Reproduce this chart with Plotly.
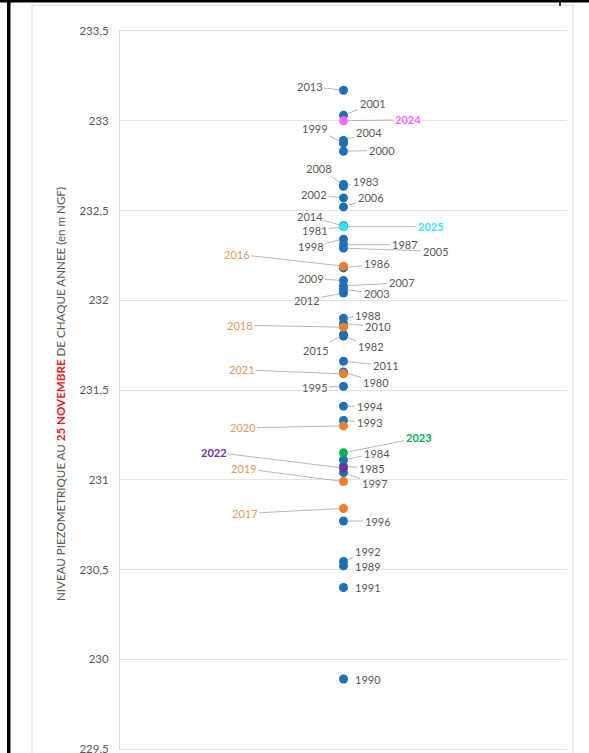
import plotly.graph_objects as go

# ---- data ----
years = list(range(1980, 2026))
levels = [231.60, 232.41, 231.80, 232.635, 231.11, 231.075, 232.18, 232.31, 231.90, 230.52,
          229.89, 230.40, 230.545, 231.33, 231.41, 231.52, 230.77, 231.04, 232.34, 232.875,
          232.83, 233.03, 232.57, 232.06, 232.89, 232.29, 232.52, 232.08, 232.645, 232.11,
          231.87, 231.66, 232.04, 233.17, 232.415, 231.81, 232.19, 230.84, 231.85, 230.99,
          231.30, 231.59, 231.065, 231.15, 233.00, 232.41]
orange_years = [2016, 2017, 2018, 2019, 2020, 2021]
special_years = [2022, 2023, 2024, 2025]
y_ticks = [229.5, 230, 230.5, 231, 231.5, 232, 232.5, 233, 233.5]

# ---- styles / label placement (pixel offsets of label relative to point) ----
BLUE = "#1F6FB4"
ORANGE = "#ED7D31"
special_style = {2022: "#7030A0", 2023: "#00B050", 2024: "#FF66FF", 2025: "#33E3F2"}
ORANGE_TXT = "#E09A5C"
GRAY_TXT = "#595959"
label_off = {
    2013: (-34, -4), 2001: (29, -12), 2024: (64, -1), 1999: (-29, -15), 2004: (25, -8),
    2000: (38, -1), 2008: (-25, -16), 1983: (22, -5), 2002: (-30, -3), 2006: (27, -9),
    2014: (-34, -9), 1981: (-29, 4), 2025: (87, 0), 1998: (-33, 7), 1987: (61, 0),
    2005: (92, 3), 2016: (-107, -12), 1986: (33, -4), 2009: (-33, -2), 2007: (58, -3),
    2012: (-37, 7), 2003: (33, 4), 1988: (24, -3), 2018: (-104, -2), 2010: (34, 3),
    2015: (-28, 16), 1982: (27, 10), 2011: (42, 4), 2021: (-102, -4), 1980: (32, 10),
    1995: (-29, 1), 1994: (26, 0), 1993: (26, 2), 2020: (-101, 2), 2023: (75, -15),
    1984: (33, -7), 2022: (-130, -16), 1985: (28, 2), 2019: (-100, -13), 1997: (31, 11),
    2017: (-99, 5), 1996: (34, 0), 1992: (24, -10), 1989: (24, 1), 1991: (24, 0),
    1990: (24, 0),
}
no_leader = {1989, 1991, 1990}

W, H = 589, 753
L, R, T, B = 120, 22, 31, 4
PW, PH = W - L - R, H - T - B


def px(x):
    return (x - L) / PW


def py(y):
    return (H - B - y) / PH


fig = go.Figure()

groups = [
    ([y for y in years if y not in orange_years and y not in special_years], BLUE),
    (orange_years, ORANGE),
]
for ys, col in groups:
    fig.add_trace(go.Scatter(
        x=[1] * len(ys), y=[levels[years.index(y)] for y in ys],
        mode="markers", marker=dict(color=col, size=9, line=dict(width=0)),
        hoverinfo="skip", showlegend=False, cliponaxis=False))
for y in special_years:
    fig.add_trace(go.Scatter(
        x=[1], y=[levels[years.index(y)]], mode="markers",
        marker=dict(color=special_style[y], size=9, line=dict(width=0)),
        hoverinfo="skip", showlegend=False))

for yr in years:
    val = levels[years.index(yr)]
    ax, ay = label_off[yr]
    if yr in special_years:
        txt = f"<b>{yr}</b>"
        col = special_style[yr]
    elif yr in orange_years:
        txt = str(yr)
        col = ORANGE_TXT
    else:
        txt = str(yr)
        col = GRAY_TXT
    fig.add_annotation(
        x=1, y=val, xref="x", yref="y", text=txt, showarrow=True,
        ax=ax, ay=ay, arrowhead=0, arrowwidth=0.8, standoff=4,
        arrowcolor="rgba(0,0,0,0)" if yr in no_leader else "#A6A6A6",
        font=dict(family="Lato", size=11, color=col),
        xanchor="center", yanchor="middle")

# axis title
fig.add_annotation(
    x=px(60), y=py(394), xref="paper", yref="paper", showarrow=False,
    textangle=-90, xanchor="center", yanchor="middle",
    text="NIVEAU PIEZOMETRIQUE AU <b><span style='color:#E0201B'>25 NOVEMBRE</span></b> DE CHAQUE ANNEE (en m NGF)",
    font=dict(family="Lato", size=11.6, color=GRAY_TXT))

# frame decorations of the reference picture
shapes = [
    dict(type="rect", xref="paper", yref="paper", x0=px(32), x1=px(573), y0=py(760), y1=py(5),
         line=dict(color="#D9D9D9", width=1), fillcolor="rgba(0,0,0,0)", layer="below"),
    dict(type="rect", xref="paper", yref="paper", x0=px(0), x1=px(589), y0=py(2.5), y1=py(0),
         line=dict(width=0), fillcolor="black"),
    dict(type="rect", xref="paper", yref="paper", x0=px(7), x1=px(10.5), y0=py(760), y1=py(0),
         line=dict(width=0), fillcolor="black"),
    dict(type="line", xref="paper", yref="paper", x0=px(560), x1=px(560), y0=py(6), y1=py(0),
         line=dict(color="black", width=1.5)),
]

fig.update_layout(
    width=W, height=H, margin=dict(l=L, r=R, t=T, b=B, pad=0, autoexpand=False),
    paper_bgcolor="white", plot_bgcolor="white",
    separators=", ", shapes=shapes,
    xaxis=dict(range=[0, 2], showgrid=False, zeroline=False, showticklabels=False, ticks="",
               showline=True, mirror=True, linecolor="#E3E3E3", linewidth=1, fixedrange=True,
               automargin=False),
    yaxis=dict(range=[229.5, 233.5], tickvals=y_ticks, showgrid=True, gridcolor="#E3E3E3",
               gridwidth=1, zeroline=False, showline=True, linecolor="#D9D9D9", linewidth=1,
               ticks="", ticklabelstandoff=8, ticklabeloverflow="allow", automargin=False,
               tickfont=dict(family="Lato", size=11.5, color=GRAY_TXT)),
)

fig.write_html(
    "out.html",
    config={"displayModeBar": False},
    post_script="document.body.style.margin='0';document.body.style.overflow='hidden';")
